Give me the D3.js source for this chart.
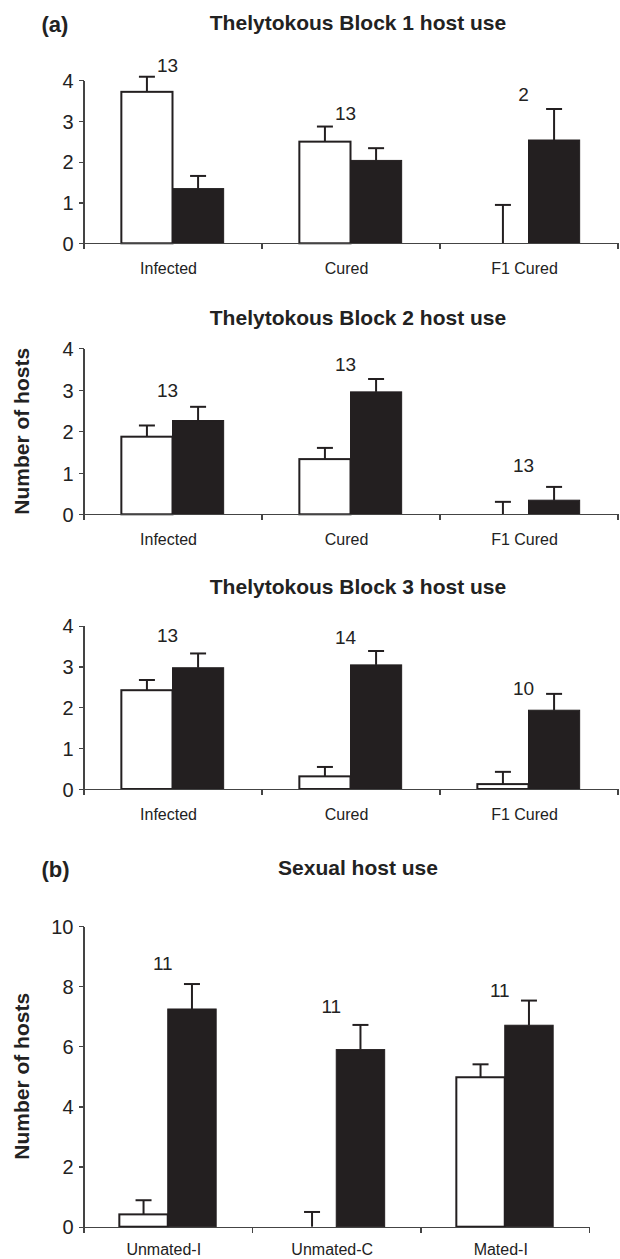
<!DOCTYPE html>
<html>
<head>
<meta charset="utf-8">
<script src="https://cdn.jsdelivr.net/npm/d3@7"></script>
<style>
  body { margin: 0; background: #fff; }
  svg { display: block; font-family: "Liberation Sans", Arial, Helvetica, sans-serif; }
  .axis path, .axis line { stroke: #444; stroke-width: 1.2; shape-rendering: crispEdges; }
  .axis text { font-size: 20px; fill: #222; }
</style>
</head>
<body>
<script>
// categories
var blockCats = ["Infected", "Cured", "F1 Cured"];
var sexualCats = ["Unmated-I", "Unmated-C", "Mated-I"];
var blockTicks = [0, 1, 2, 3, 4];
var sexualTicks = [0, 2, 4, 6, 8, 10];

// open (white) and filled (black) bars: mean and upper error
var block1Open = [3.71, 2.49, 0];
var block1OpenSE = [0.37, 0.37, 0.94];
var block1Filled = [1.34, 2.03, 2.53];
var block1FilledSE = [0.31, 0.30, 0.76];
var block1N = ["13", "13", "2"];
var block1NAt = [4.20, 3.02, 3.48];

var block2Open = [1.87, 1.33, 0];
var block2OpenSE = [0.27, 0.27, 0.30];
var block2Filled = [2.26, 2.95, 0.34];
var block2FilledSE = [0.33, 0.31, 0.32];
var block2N = ["13", "13", "13"];
var block2NAt = [2.83, 3.46, 1.03];

var block3Open = [2.42, 0.31, 0.12];
var block3OpenSE = [0.25, 0.23, 0.30];
var block3Filled = [2.97, 3.04, 1.93];
var block3FilledSE = [0.35, 0.34, 0.40];
var block3N = ["13", "14", "10"];
var block3NAt = [3.59, 3.54, 2.30];

var sexualOpen = [0.41, 0, 4.97];
var sexualOpenSE = [0.47, 0.49, 0.43];
var sexualFilled = [7.24, 5.89, 6.70];
var sexualFilledSE = [0.83, 0.82, 0.82];
var sexualN = ["11", "11", "11"];
var sexualNAt = [8.54, 7.10, 7.65];

var width = 620, height = 1259,
	xLeft = 83.5,
	capHalf = 8,
	black = "#231f20";

var panels = [
	{cats: blockCats, open: block1Open, openSE: block1OpenSE, filled: block1Filled, filledSE: block1FilledSE,
	 n: block1N, nAt: block1NAt, ticks: blockTicks, max: 4, top: 80, bottom: 243.3, right: 617.5,
	 title: "Thelytokous Block 1 host use", titleY: 30, tag: "(a)", yTitle: false},
	{cats: blockCats, open: block2Open, openSE: block2OpenSE, filled: block2Filled, filledSE: block2FilledSE,
	 n: block2N, nAt: block2NAt, ticks: blockTicks, max: 4, top: 348.3, bottom: 514.3, right: 617.5,
	 title: "Thelytokous Block 2 host use", titleY: 325, tag: null, yTitle: true},
	{cats: blockCats, open: block3Open, openSE: block3OpenSE, filled: block3Filled, filledSE: block3FilledSE,
	 n: block3N, nAt: block3NAt, ticks: blockTicks, max: 4, top: 625.7, bottom: 789, right: 617.5,
	 title: "Thelytokous Block 3 host use", titleY: 594, tag: null, yTitle: false},
	{cats: sexualCats, open: sexualOpen, openSE: sexualOpenSE, filled: sexualFilled, filledSE: sexualFilledSE,
	 n: sexualN, nAt: sexualNAt, ticks: sexualTicks, max: 10, top: 926, bottom: 1226.7, right: 589,
	 title: "Sexual host use", titleY: 875, tag: "(b)", yTitle: true}
];

var svg = d3.select("body")
	.append("svg")
	.attr("width", width)
	.attr("height", height);

function drawPanel(p){
	var g = svg.append("g");

	var x0 = d3.scaleBand()
		.domain(p.cats)
		.range([xLeft, p.right]);

	var x1 = d3.scaleBand()
		.domain(["open", "filled"])
		.range([0, x0.bandwidth()])
		.paddingOuter(0.74);

	var y = d3.scaleLinear()
		.domain([0, p.max])
		.range([p.bottom, p.top]);

	// title and panel tag
	g.append("text")
		.attr("x", 358)
		.attr("y", p.titleY)
		.attr("text-anchor", "middle")
		.style("font-size", "21px")
		.style("font-weight", "bold")
		.attr("fill", "#222")
		.text(p.title);

	if (p.tag){
		g.append("text")
			.attr("x", 41.5)
			.attr("y", p.titleY + 1.5)
			.style("font-size", "22px")
			.style("font-weight", "bold")
			.attr("fill", "#222")
			.text(p.tag);
	}

	if (p.yTitle){
		g.append("text")
			.attr("transform", "translate(29," + ((p.top + p.bottom) / 2) + ") rotate(-90)")
			.attr("text-anchor", "middle")
			.style("font-size", "21px")
			.style("font-weight", "bold")
			.attr("fill", "#222")
			.text("Number of hosts");
	}

	var rows = p.cats.map(function(c, i){
		return {cat: c, i: i};
	});

	// bars
	var groups = g.selectAll("g.cat")
		.data(rows)
		.enter()
		.append("g")
		.attr("class", "cat")
		.attr("transform", function(d){ return "translate(" + x0(d.cat) + ",0)"; });

	groups.filter(function(d){ return p.open[d.i] > 0; })
		.append("rect")
		.attr("x", x1("open"))
		.attr("y", function(d){ return y(p.open[d.i]); })
		.attr("width", x1.bandwidth())
		.attr("height", function(d){ return y(0) - y(p.open[d.i]); })
		.attr("fill", "#fff")
		.attr("stroke", black)
		.attr("stroke-width", 2);

	groups.append("rect")
		.attr("x", x1("filled"))
		.attr("y", function(d){ return y(p.filled[d.i]); })
		.attr("width", x1.bandwidth())
		.attr("height", function(d){ return y(0) - y(p.filled[d.i]); })
		.attr("fill", black)
		.attr("stroke", black)
		.attr("stroke-width", 1);

	// error bars
	function errorBar(key, mean, se){
		var cx = x1(key) + x1.bandwidth() / 2;
		groups.append("line")
			.attr("x1", cx).attr("x2", cx)
			.attr("y1", function(d){ return y(mean[d.i]); })
			.attr("y2", function(d){ return y(mean[d.i] + se[d.i]); })
			.attr("stroke", black)
			.attr("stroke-width", 2);
		groups.append("line")
			.attr("x1", cx - capHalf).attr("x2", cx + capHalf)
			.attr("y1", function(d){ return y(mean[d.i] + se[d.i]); })
			.attr("y2", function(d){ return y(mean[d.i] + se[d.i]); })
			.attr("stroke", black)
			.attr("stroke-width", 2);
	}
	errorBar("open", p.open, p.openSE);
	errorBar("filled", p.filled, p.filledSE);

	// sample sizes
	groups.append("text")
		.attr("x", x0.bandwidth() / 2 - 5)
		.attr("y", function(d){ return y(p.nAt[d.i]); })
		.attr("text-anchor", "middle")
		.style("font-size", "19px")
		.attr("fill", "#222")
		.text(function(d){ return p.n[d.i]; });

	// axes
	g.append("g")
		.attr("class", "axis")
		.attr("transform", "translate(" + xLeft + ",0)")
		.call(d3.axisLeft(y)
			.tickValues(p.ticks)
			.tickFormat(d3.format("d"))
			.tickSize(5)
			.tickSizeOuter(0)
			.tickPadding(5))
		.selectAll("text")
		.attr("dy", "0.36em");

	var xEdges = d3.scaleLinear()
		.domain([0, p.cats.length])
		.range([xLeft, p.right]);

	g.append("g")
		.attr("class", "axis")
		.attr("transform", "translate(0," + p.bottom + ")")
		.call(d3.axisBottom(xEdges)
			.tickValues(d3.range(p.cats.length + 1))
			.tickFormat("")
			.tickSize(6)
			.tickSizeOuter(0));

	g.selectAll("text.cat-label")
		.data(p.cats)
		.enter()
		.append("text")
		.attr("class", "cat-label")
		.attr("x", function(d){ return x0(d) + x0.bandwidth() / 2 - 4; })
		.attr("y", Math.min(p.bottom + 31, height - 4))
		.attr("text-anchor", "middle")
		.style("font-size", "16px")
		.attr("fill", "#222")
		.text(function(d){ return d; });
}

panels.forEach(drawPanel);
</script>
</body>
</html>
